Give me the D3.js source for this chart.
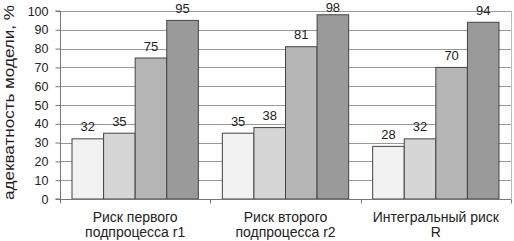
<!DOCTYPE html>
<html><head><meta charset="utf-8">
<script src="https://cdn.jsdelivr.net/npm/d3@7"></script>
<style>body{margin:0;background:#fff}svg{display:block}text{font-family:"Liberation Sans",Arial,sans-serif;fill:#222}</style>
</head><body><svg id="c" width="514" height="241"></svg>
<script>
const categories = [["Риск первого","подпроцесса r1"],["Риск второго","подпроцесса r2"],["Интегральный риск","R"]];
const series1 = [32,35,28];
const series2 = [35,38,32];
const series3 = [75,81,70];
const series4 = [95,98,94];
const yTicks = [0,10,20,30,40,50,60,70,80,90,100];
const yTitle = "адекватность модели, %";
const colors = ["#f2f2f2","#d6d6d6","#b5b5b5","#9a9a9a"];

const allSeries = [series1,series2,series3,series4];
const svg = d3.select("#c");
const L=60,R=511,T=11,B=199;
const x0 = d3.scaleBand().domain(d3.range(categories.length)).range([L,R]).paddingInner(0).paddingOuter(0);
const x1 = d3.scaleBand().domain(d3.range(4)).range([0,x0.bandwidth()]).paddingOuter(0.38).paddingInner(0);
const y = d3.scaleLinear().domain([0,100]).range([B,T]);

// gridlines
svg.append("g").selectAll("line").data(yTicks.filter(d=>d>0)).join("line")
  .attr("x1",L).attr("x2",R).attr("y1",d=>Math.round(y(d))+0.5).attr("y2",d=>Math.round(y(d))+0.5)
  .attr("stroke","#999").attr("stroke-width",1);
// right border
svg.append("line").attr("x1",R+0.5).attr("x2",R+0.5).attr("y1",T).attr("y2",B).attr("stroke","#bbb");

// bars
const g = svg.append("g").selectAll("g").data(categories).join("g")
  .attr("transform",(d,i)=>`translate(${x0(i)},0)`);
g.each(function(c,i){
  const sel = d3.select(this);
  allSeries.forEach((s,k)=>{
    sel.append("rect").attr("x",x1(k)).attr("y",y(s[i])).attr("width",x1.bandwidth()).attr("height",B-y(s[i]))
      .attr("fill",colors[k]).attr("stroke","#444").attr("stroke-width",1);
    sel.append("text").attr("x",x1(k)+x1.bandwidth()/2).attr("y",Math.max(12,y(s[i])-7.5))
      .attr("text-anchor","middle").attr("font-size",13).text(s[i]);
  });
});

// y axis
const ya = svg.append("g").attr("transform",`translate(${L+0.5},0)`)
  .call(d3.axisLeft(y).tickValues(yTicks).tickSize(5).tickPadding(7));
ya.select(".domain").attr("stroke","#777").attr("d",`M-5,${y(0)}H0V${y(100)}H-5`);
ya.selectAll(".tick line").attr("stroke","#777");
ya.selectAll(".tick text").attr("font-size",12.5).attr("fill","#222").attr("font-family","Liberation Sans, Arial, sans-serif");

// x axis
const xa = svg.append("g").attr("transform",`translate(0,${B+0.5})`);
xa.append("line").attr("x1",L).attr("x2",R).attr("stroke","#777");
xa.selectAll(".tk").data(d3.range(categories.length+1)).join("line")
  .attr("x1",d=>Math.round(L+d*x0.bandwidth())+0.5).attr("x2",d=>Math.round(L+d*x0.bandwidth())+0.5)
  .attr("y1",0).attr("y2",4).attr("stroke","#777");
categories.forEach((c,i)=>{
  const t = svg.append("text").attr("x",x0(i)+x0.bandwidth()/2).attr("text-anchor","middle").attr("font-size",14);
  t.append("tspan").attr("x",x0(i)+x0.bandwidth()/2).attr("y",222).text(c[0]);
  t.append("tspan").attr("x",x0(i)+x0.bandwidth()/2).attr("y",237).text(c[1]);
});

// y title
svg.append("text").attr("transform",`translate(13.5,102.5) rotate(-90)`).attr("text-anchor","middle")
  .attr("font-size",15).attr("textLength",195).attr("lengthAdjust","spacingAndGlyphs").text(yTitle);
</script></body></html>
